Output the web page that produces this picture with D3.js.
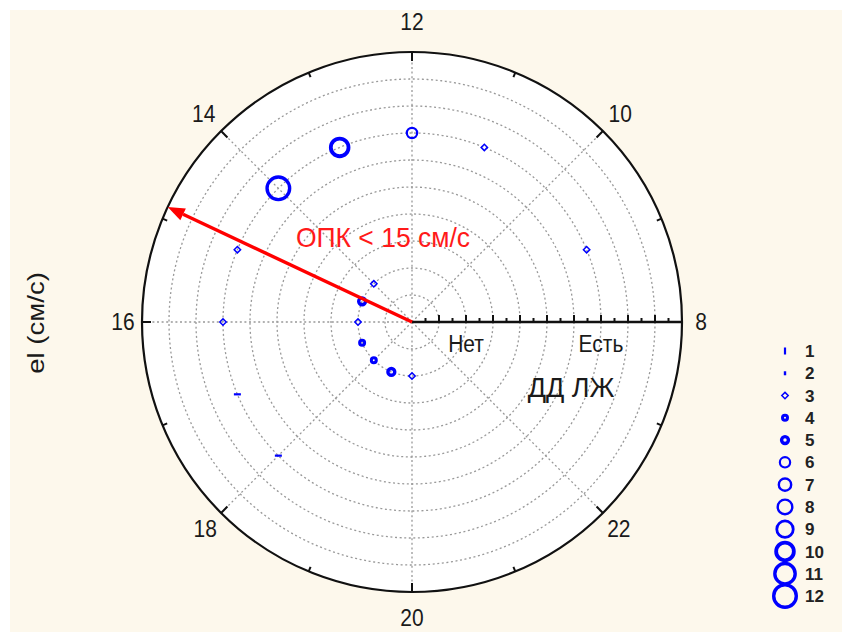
<!DOCTYPE html>
<html>
<head>
<meta charset="utf-8">
<script src="https://cdn.jsdelivr.net/npm/d3@7"></script>
<style>
  html, body { margin: 0; padding: 0; background: #ffffff; }
  svg { display: block; }
  text { font-family: "Liberation Sans", Arial, sans-serif; }
</style>
</head>
<body>
<div id="chart"></div>
<script>
// ---------------- data ----------------
// angular axis (el, см/с)
const angleTicks = [8, 10, 12, 14, 16, 18, 20, 22];
// radial categories (ДД ЛЖ) and their position on the radial value scale
const radialCategories = ["Нет", "Есть"];
const radialCategoryValues = [2, 7];
// observations: el value (angle), ДД ЛЖ group (radius), frequency (marker size)
const elValues   = [12, 11, 13, 14, 9, 15, 16, 17, 18, 14, 15, 16, 17, 18, 19, 20];
const ddGroups   = ["Есть","Есть","Есть","Есть","Есть","Есть","Есть","Есть","Есть",
                    "Нет","Нет","Нет","Нет","Нет","Нет","Нет"];
const freqValues = [6, 3, 10, 12, 3, 3, 3, 1, 1, 3, 5, 3, 4, 4, 5, 3];
// legend levels
const legendLevels = [1, 2, 3, 4, 5, 6, 7, 8, 9, 10, 11, 12];
// annotation arrow
const arrowEl = 14.88;
const arrowLabel = "ОПК < 15 см/с";
const axisTitle = "el (см/с)";
const radialTitle = "ДД ЛЖ";

// ---------------- layout ----------------
const W = 842, H = 632;
const cx = 412, cy = 322, R = 270;
const blue = "#0000ff";

const svg = d3.select("#chart").append("svg")
  .attr("width", W).attr("height", H);

svg.append("rect").attr("x", 10).attr("y", 10)
  .attr("width", W - 10).attr("height", H - 10)
  .attr("fill", "#fdf8ec");

const g = svg.append("g").attr("transform", `translate(${cx},${cy})`);

// scales
const aScale = d3.scaleLinear().domain([8, 24]).range([0, 2 * Math.PI]);
const rScale = d3.scaleLinear().domain([0, 10]).range([0, R]);
const catScale = d3.scaleOrdinal().domain(radialCategories).range(radialCategoryValues);
const px = (t, r) => r * Math.cos(aScale(t));
const py = (t, r) => -r * Math.sin(aScale(t));

// plot disc
g.append("circle").attr("r", R).attr("fill", "#ffffff");

// grid rings
g.selectAll("circle.ring").data(d3.range(1, 10)).enter().append("circle")
  .attr("class", "ring")
  .attr("r", d => rScale(d))
  .attr("fill", "none")
  .attr("stroke", "#999999")
  .attr("stroke-width", 1.3)
  .attr("stroke-dasharray", "2,2.6");

// grid spokes
g.selectAll("line.spoke").data(angleTicks.filter(t => t !== 8)).enter().append("line")
  .attr("class", "spoke")
  .attr("x1", 0).attr("y1", 0)
  .attr("x2", d => px(d, R)).attr("y2", d => py(d, R))
  .attr("stroke", "#999999")
  .attr("stroke-width", 1.3)
  .attr("stroke-dasharray", "2,2.6");

// outer circle
g.append("circle").attr("r", R).attr("fill", "none")
  .attr("stroke", "#111").attr("stroke-width", 2.2);

// angular ticks (inward)
const angTicksAll = d3.range(8, 24, 1);
g.selectAll("line.atick").data(angTicksAll).enter().append("line")
  .attr("class", "atick")
  .attr("x1", d => px(d, R)).attr("y1", d => py(d, R))
  .attr("x2", d => px(d, R - (d % 2 === 0 ? 9 : 5)))
  .attr("y2", d => py(d, R - (d % 2 === 0 ? 9 : 5)))
  .attr("stroke", "#111").attr("stroke-width", 2);

// angular labels
g.selectAll("text.alabel").data(angleTicks).enter().append("text")
  .attr("class", "alabel")
  .attr("transform", d => {
    const s = Math.sin(aScale(d));
    const dist = R + 19 + (Math.sin(aScale(d)) > 0 ? 11 : 7) * s * s;
    return `translate(${px(d, dist)},${py(d, dist)}) scale(1,1.1)`;
  })
  .attr("text-anchor", "middle")
  .attr("dy", "0.36em")
  .attr("font-size", 21)
  .attr("fill", "#1a1a1a")
  .text(d => d);

// radial axis
g.append("line").attr("x1", 0).attr("y1", 0).attr("x2", R).attr("y2", 0)
  .attr("stroke", "#111").attr("stroke-width", 2.4);
const rTicks = d3.range(0.5, 10, 0.5);
g.selectAll("line.rtick").data(rTicks).enter().append("line")
  .attr("class", "rtick")
  .attr("x1", d => rScale(d)).attr("x2", d => rScale(d))
  .attr("y1", 0).attr("y2", d => Number.isInteger(d) ? -7 : -4)
  .attr("stroke", "#111").attr("stroke-width", 2);

// radial category labels
g.selectAll("text.rlabel").data(radialCategories).enter().append("text")
  .attr("class", "rlabel")
  .attr("transform", d => `translate(${rScale(catScale(d))},30) scale(1,1.1)`)
  .attr("text-anchor", "middle")
  .attr("font-size", 21)
  .attr("fill", "#1a1a1a")
  .text(d => d);

// radial title
svg.append("text")
  .attr("transform", `translate(571,397) scale(1,1.05)`)
  .attr("text-anchor", "middle")
  .attr("font-size", 27)
  .attr("fill", "#1a1a1a")
  .text(radialTitle);

// y title
svg.append("text")
  .attr("transform", `translate(44,323) rotate(-90) scale(1.2,1)`)
  .attr("text-anchor", "middle")
  .attr("font-size", 23)
  .attr("fill", "#1a1a1a")
  .text(axisTitle);

// ---------------- markers ----------------
const diamScale = d3.scaleLinear().domain([4, 12]).range([8, 26]);
const strokeOf = n => ({4: 3, 5: 3.4, 6: 2.2, 7: 2.4, 8: 2.4, 9: 2.8, 10: 3.8, 11: 3.4, 12: 3.4})[n];

function drawMarker(sel, n, vertical) {
  if (n === 1) {
    sel.append("line")
      .attr("x1", vertical ? 0 : -3.5).attr("x2", vertical ? 0 : 3.5)
      .attr("y1", vertical ? -3.5 : 0).attr("y2", vertical ? 3.5 : 0)
      .attr("stroke", blue).attr("stroke-width", 2.2);
  } else if (n === 2) {
    sel.append("rect").attr("x", -1.2).attr("y", -2).attr("width", 2.4).attr("height", 4)
      .attr("fill", blue);
  } else if (n === 3) {
    sel.append("path").attr("d", "M0,-3.2L3.2,0L0,3.2L-3.2,0Z")
      .attr("fill", "none").attr("stroke", blue).attr("stroke-width", 1.5);
  } else {
    const d = diamScale(n);
    const sw = strokeOf(n);
    sel.append("circle").attr("r", (d - sw) / 2)
      .attr("fill", "none").attr("stroke", blue).attr("stroke-width", sw);
  }
}

const points = elValues.map((e, i) => ({ el: e, grp: ddGroups[i], n: freqValues[i] }));
g.selectAll("g.pt").data(points).enter().append("g")
  .attr("class", "pt")
  .attr("transform", d => {
    const r = rScale(catScale(d.grp));
    return `translate(${px(d.el, r)},${py(d.el, r)})`;
  })
  .each(function (d) { drawMarker(d3.select(this), d.n, false); });

// ---------------- arrow annotation ----------------
const ax = px(arrowEl, R), ay = py(arrowEl, R);
const ang = Math.atan2(ay, ax);
const headLen = 17, headW = 6.5;
const bx = ax - headLen * Math.cos(ang), by = ay - headLen * Math.sin(ang);
g.append("line").attr("x1", 0).attr("y1", 0).attr("x2", bx).attr("y2", by)
  .attr("stroke", "#ff0000").attr("stroke-width", 3.4);
g.append("path")
  .attr("d", `M${ax},${ay} L${bx - headW * Math.sin(ang)},${by + headW * Math.cos(ang)} L${bx + headW * Math.sin(ang)},${by - headW * Math.cos(ang)} Z`)
  .attr("fill", "#ff0000");
svg.append("text")
  .attr("transform", `translate(383,247) scale(1,1.06)`)
  .attr("text-anchor", "middle")
  .attr("font-size", 26.5)
  .attr("fill", "#ff1a1a")
  .text(arrowLabel);

// ---------------- legend ----------------
const legY = d3.scaleLinear().domain([1, 12]).range([351, 596]);
const leg = svg.append("g");
const items = leg.selectAll("g.li").data(legendLevels).enter().append("g")
  .attr("class", "li")
  .attr("transform", d => `translate(785,${legY(d)})`);
items.each(function (d) { drawMarker(d3.select(this), d, true); });
items.append("text")
  .attr("x", 20).attr("dy", "0.36em")
  .attr("font-size", 17)
  .attr("font-weight", "bold")
  .attr("fill", "#222")
  .text(d => d);
</script>
</body>
</html>
